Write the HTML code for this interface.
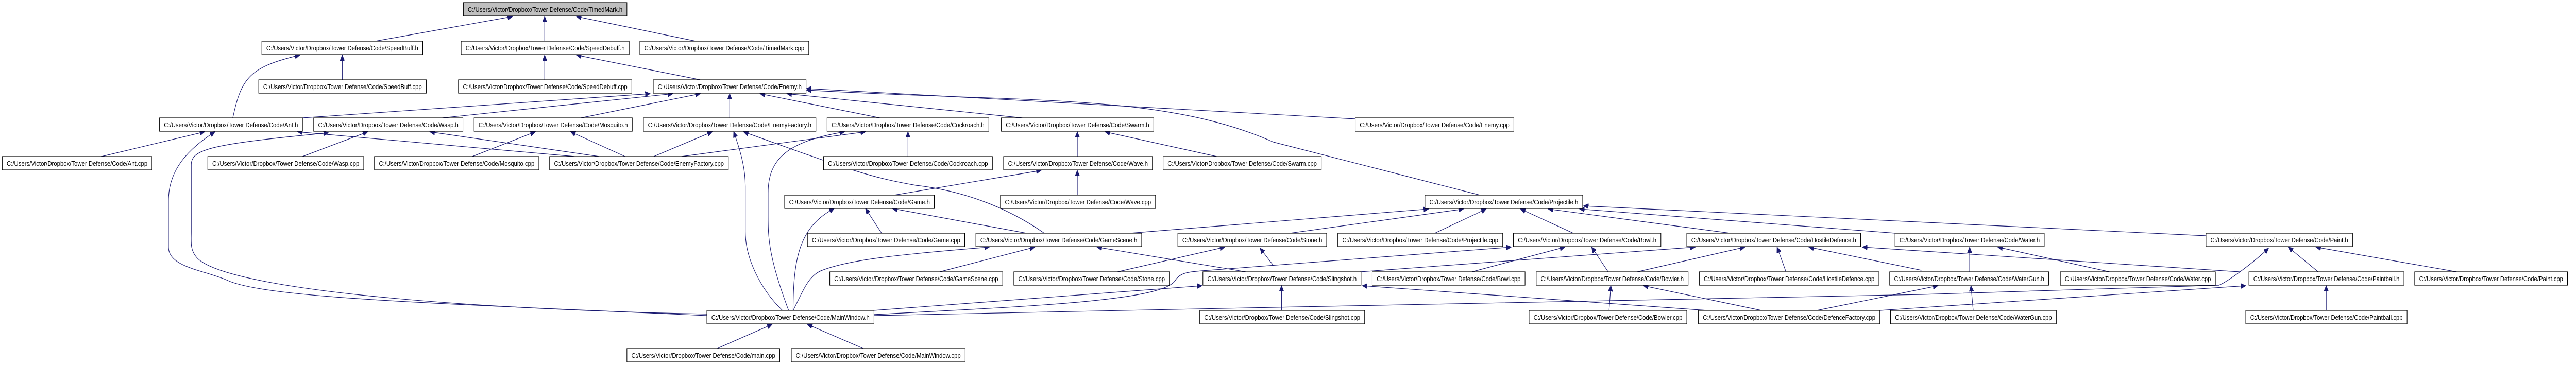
<!DOCTYPE html>
<html><head><meta charset="utf-8"><style>
html,body{margin:0;padding:0;background:#fff;overflow:hidden;width:100%;height:100%;}
svg{display:block;width:100vw;height:100vh;}
text{font-family:"Liberation Sans",Arial,sans-serif;font-size:13px;fill:#000;}
.n{fill:#fff;stroke:#000;stroke-width:1.2;}
.e{fill:none;stroke:#191970;stroke-width:1.2;marker-end:url(#a);}
</style></head><body>
<svg viewBox="0 0 5765 709" preserveAspectRatio="none" xmlns="http://www.w3.org/2000/svg">
<defs><marker id="a" markerUnits="userSpaceOnUse" markerWidth="12" markerHeight="10" refX="11" refY="5" orient="auto"><path d="M0,0 L11,5 L0,10 z" fill="#191970" stroke="#191970"/></marker></defs>
<g>
<path class="e" d="M840,80 L1147,32"/>
<path class="e" d="M1219,80 L1219,32"/>
<path class="e" d="M1557,80 L1290,32"/>
<path class="e" d="M766,155 L766,107"/>
<path class="e" d="M1219,155 L1219,107"/>
<path class="e" d="M1567,155 L1290,107"/>
<path class="e" d="M521,229 C540,150 560,130 671,107"/>
<path class="e" d="M677,229 L1455,182"/>
<path class="e" d="M990,229 L1506,182"/>
<path class="e" d="M1300,229 L1567,182"/>
<path class="e" d="M1633,229 L1633,182"/>
<path class="e" d="M1969,229 L1701,182"/>
<path class="e" d="M2288,229 L1761,182"/>
<path class="e" d="M3033,231 L1805,172"/>
<path class="e" d="M3312,379 L2850,276 C2600,180 2300,200 1805,175"/>
<path class="e" d="M227,304 L458,256"/>
<path class="e" d="M1582,613 C1000,590 600,580 510,545 C460,525 377,520 377,480 L377,390 C377,330 420,290 481,256"/>
<path class="e" d="M1582,610 C1000,600 500,560 440,500 C425,485 428,470 428,450 L428,320 C428,290 470,280 735,258"/>
<path class="e" d="M677,304 L823,256"/>
<path class="e" d="M1341,304 L962,256"/>
<path class="e" d="M1286,304 L666,256"/>
<path class="e" d="M1057,304 L1198,256"/>
<path class="e" d="M1399,304 L1277,256"/>
<path class="e" d="M1463,304 L1594,256"/>
<path class="e" d="M1525,304 L1937,256"/>
<path class="e" d="M1751,603 C1700,560 1668,500 1668,450 L1668,362 C1668,330 1660,300 1642,256"/>
<path class="e" d="M2337,453 C2250,400 2150,370 2050,360 C1950,345 1900,330 1664,256"/>
<path class="e" d="M1765,603 C1720,500 1719,460 1719,420 L1719,375 C1719,310 1760,275 1890,256"/>
<path class="e" d="M2032,304 L2032,256"/>
<path class="e" d="M2411,304 L2411,256"/>
<path class="e" d="M2723,304 L2473,256"/>
<path class="e" d="M2001,379 L2330,331"/>
<path class="e" d="M2411,379 L2411,331"/>
<path class="e" d="M1973,453 L1937,405"/>
<path class="e" d="M2297,453 L1997,405"/>
<path class="e" d="M1775,603 C1775,500 1790,440 1867,405"/>
<path class="e" d="M2529,453 L3197,406"/>
<path class="e" d="M2103,528 L2316,480"/>
<path class="e" d="M1775,603 C1800,560 1810,535 1840,525 C1900,505 2000,495 2214,480"/>
<path class="e" d="M2788,528 L2455,480"/>
<path class="e" d="M2501,528 L2741,480"/>
<path class="e" d="M2850,516 L2820,482"/>
<path class="e" d="M1955,603 L2690,555"/>
<path class="e" d="M1956,611 C2300,595 2600,585 2630,545 C2640,530 2660,528 2690,526 L3382,480"/>
<path class="e" d="M1956,613 L2850,597 L4300,572 L4966,554 C4990,545 5050,505 5077,482"/>
<path class="e" d="M4207,603 L5026,555"/>
<path class="e" d="M2868,603 L2868,555"/>
<path class="e" d="M3821,603 L3049,555"/>
<path class="e" d="M3044,528 L3794,480"/>
<path class="e" d="M3294,528 L3502,480"/>
<path class="e" d="M3599,528 L3562,480"/>
<path class="e" d="M2887,453 L3275,406"/>
<path class="e" d="M3211,453 L3326,406"/>
<path class="e" d="M3521,453 L3403,406"/>
<path class="e" d="M3872,453 L3465,406"/>
<path class="e" d="M4242,453 L3535,406"/>
<path class="e" d="M4937,458 L3544,400"/>
<path class="e" d="M3664,528 L3905,480"/>
<path class="e" d="M3997,528 L3977,480"/>
<path class="e" d="M4300,525 L4048,480"/>
<path class="e" d="M5012,528 L4168,480"/>
<path class="e" d="M3601,603 L3605,555"/>
<path class="e" d="M3942,603 L3678,555"/>
<path class="e" d="M4066,603 L4337,555"/>
<path class="e" d="M4408,528 L4408,480"/>
<path class="e" d="M4721,528 L4471,480"/>
<path class="e" d="M4416,603 L4411,555"/>
<path class="e" d="M5188,528 L5121,480"/>
<path class="e" d="M5498,528 L5183,480"/>
<path class="e" d="M5206,603 L5206,555"/>
<path class="e" d="M1605,677 L1728,630"/>
<path class="e" d="M1932,677 L1807,630"/>
</g>
<g>
<rect x="1037" y="5" width="366" height="26" fill="#bfbfbf" stroke="#000" stroke-width="1.2"/><text x="1047" y="23" textLength="346" lengthAdjust="spacingAndGlyphs">C:/Users/Victor/Dropbox/Tower Defense/Code/TimedMark.h</text>
<rect class="n" x="586" y="80" width="360" height="26"/><text x="596" y="98" textLength="340" lengthAdjust="spacingAndGlyphs">C:/Users/Victor/Dropbox/Tower Defense/Code/SpeedBuff.h</text>
<rect class="n" x="1032" y="80" width="376" height="26"/><text x="1042" y="98" textLength="356" lengthAdjust="spacingAndGlyphs">C:/Users/Victor/Dropbox/Tower Defense/Code/SpeedDebuff.h</text>
<rect class="n" x="1432" y="80" width="378" height="26"/><text x="1442" y="98" textLength="358" lengthAdjust="spacingAndGlyphs">C:/Users/Victor/Dropbox/Tower Defense/Code/TimedMark.cpp</text>
<rect class="n" x="579" y="155" width="375" height="26"/><text x="589" y="173" textLength="355" lengthAdjust="spacingAndGlyphs">C:/Users/Victor/Dropbox/Tower Defense/Code/SpeedBuff.cpp</text>
<rect class="n" x="1026" y="155" width="388" height="26"/><text x="1036" y="173" textLength="368" lengthAdjust="spacingAndGlyphs">C:/Users/Victor/Dropbox/Tower Defense/Code/SpeedDebuff.cpp</text>
<rect class="n" x="1462" y="155" width="342" height="26"/><text x="1472" y="173" textLength="322" lengthAdjust="spacingAndGlyphs">C:/Users/Victor/Dropbox/Tower Defense/Code/Enemy.h</text>
<rect class="n" x="357" y="229" width="320" height="26"/><text x="367" y="247" textLength="300" lengthAdjust="spacingAndGlyphs">C:/Users/Victor/Dropbox/Tower Defense/Code/Ant.h</text>
<rect class="n" x="702" y="229" width="334" height="26"/><text x="712" y="247" textLength="314" lengthAdjust="spacingAndGlyphs">C:/Users/Victor/Dropbox/Tower Defense/Code/Wasp.h</text>
<rect class="n" x="1061" y="229" width="354" height="26"/><text x="1071" y="247" textLength="334" lengthAdjust="spacingAndGlyphs">C:/Users/Victor/Dropbox/Tower Defense/Code/Mosquito.h</text>
<rect class="n" x="1440" y="229" width="386" height="26"/><text x="1450" y="247" textLength="366" lengthAdjust="spacingAndGlyphs">C:/Users/Victor/Dropbox/Tower Defense/Code/EnemyFactory.h</text>
<rect class="n" x="1851" y="229" width="362" height="26"/><text x="1861" y="247" textLength="342" lengthAdjust="spacingAndGlyphs">C:/Users/Victor/Dropbox/Tower Defense/Code/Cockroach.h</text>
<rect class="n" x="2241" y="229" width="341" height="26"/><text x="2251" y="247" textLength="321" lengthAdjust="spacingAndGlyphs">C:/Users/Victor/Dropbox/Tower Defense/Code/Swarm.h</text>
<rect class="n" x="3033" y="229" width="355" height="26"/><text x="3043" y="247" textLength="335" lengthAdjust="spacingAndGlyphs">C:/Users/Victor/Dropbox/Tower Defense/Code/Enemy.cpp</text>
<rect class="n" x="5" y="304" width="335" height="26"/><text x="15" y="322" textLength="315" lengthAdjust="spacingAndGlyphs">C:/Users/Victor/Dropbox/Tower Defense/Code/Ant.cpp</text>
<rect class="n" x="465" y="304" width="349" height="26"/><text x="475" y="322" textLength="329" lengthAdjust="spacingAndGlyphs">C:/Users/Victor/Dropbox/Tower Defense/Code/Wasp.cpp</text>
<rect class="n" x="838" y="304" width="368" height="26"/><text x="848" y="322" textLength="348" lengthAdjust="spacingAndGlyphs">C:/Users/Victor/Dropbox/Tower Defense/Code/Mosquito.cpp</text>
<rect class="n" x="1230" y="304" width="400" height="26"/><text x="1240" y="322" textLength="380" lengthAdjust="spacingAndGlyphs">C:/Users/Victor/Dropbox/Tower Defense/Code/EnemyFactory.cpp</text>
<rect class="n" x="1843" y="304" width="378" height="26"/><text x="1853" y="322" textLength="358" lengthAdjust="spacingAndGlyphs">C:/Users/Victor/Dropbox/Tower Defense/Code/Cockroach.cpp</text>
<rect class="n" x="2246" y="304" width="333" height="26"/><text x="2256" y="322" textLength="313" lengthAdjust="spacingAndGlyphs">C:/Users/Victor/Dropbox/Tower Defense/Code/Wave.h</text>
<rect class="n" x="2603" y="304" width="354" height="26"/><text x="2613" y="322" textLength="334" lengthAdjust="spacingAndGlyphs">C:/Users/Victor/Dropbox/Tower Defense/Code/Swarm.cpp</text>
<rect class="n" x="1756" y="379" width="335" height="26"/><text x="1766" y="397" textLength="315" lengthAdjust="spacingAndGlyphs">C:/Users/Victor/Dropbox/Tower Defense/Code/Game.h</text>
<rect class="n" x="2239" y="379" width="347" height="26"/><text x="2249" y="397" textLength="327" lengthAdjust="spacingAndGlyphs">C:/Users/Victor/Dropbox/Tower Defense/Code/Wave.cpp</text>
<rect class="n" x="3189" y="379" width="353" height="26"/><text x="3199" y="397" textLength="333" lengthAdjust="spacingAndGlyphs">C:/Users/Victor/Dropbox/Tower Defense/Code/Projectile.h</text>
<rect class="n" x="1807" y="453" width="352" height="26"/><text x="1817" y="471" textLength="332" lengthAdjust="spacingAndGlyphs">C:/Users/Victor/Dropbox/Tower Defense/Code/Game.cpp</text>
<rect class="n" x="2184" y="453" width="371" height="26"/><text x="2194" y="471" textLength="351" lengthAdjust="spacingAndGlyphs">C:/Users/Victor/Dropbox/Tower Defense/Code/GameScene.h</text>
<rect class="n" x="2636" y="453" width="333" height="26"/><text x="2646" y="471" textLength="313" lengthAdjust="spacingAndGlyphs">C:/Users/Victor/Dropbox/Tower Defense/Code/Stone.h</text>
<rect class="n" x="2994" y="453" width="369" height="26"/><text x="3004" y="471" textLength="349" lengthAdjust="spacingAndGlyphs">C:/Users/Victor/Dropbox/Tower Defense/Code/Projectile.cpp</text>
<rect class="n" x="3387" y="453" width="330" height="26"/><text x="3397" y="471" textLength="310" lengthAdjust="spacingAndGlyphs">C:/Users/Victor/Dropbox/Tower Defense/Code/Bowl.h</text>
<rect class="n" x="3775" y="453" width="389" height="26"/><text x="3785" y="471" textLength="369" lengthAdjust="spacingAndGlyphs">C:/Users/Victor/Dropbox/Tower Defense/Code/HostileDefence.h</text>
<rect class="n" x="4241" y="453" width="334" height="26"/><text x="4251" y="471" textLength="314" lengthAdjust="spacingAndGlyphs">C:/Users/Victor/Dropbox/Tower Defense/Code/Water.h</text>
<rect class="n" x="4937" y="453" width="328" height="26"/><text x="4947" y="471" textLength="308" lengthAdjust="spacingAndGlyphs">C:/Users/Victor/Dropbox/Tower Defense/Code/Paint.h</text>
<rect class="n" x="1857" y="528" width="387" height="26"/><text x="1867" y="546" textLength="367" lengthAdjust="spacingAndGlyphs">C:/Users/Victor/Dropbox/Tower Defense/Code/GameScene.cpp</text>
<rect class="n" x="2269" y="528" width="348" height="26"/><text x="2279" y="546" textLength="328" lengthAdjust="spacingAndGlyphs">C:/Users/Victor/Dropbox/Tower Defense/Code/Stone.cpp</text>
<rect class="n" x="2692" y="528" width="354" height="26"/><text x="2702" y="546" textLength="334" lengthAdjust="spacingAndGlyphs">C:/Users/Victor/Dropbox/Tower Defense/Code/Slingshot.h</text>
<rect class="n" x="3071" y="528" width="342" height="26"/><text x="3081" y="546" textLength="322" lengthAdjust="spacingAndGlyphs">C:/Users/Victor/Dropbox/Tower Defense/Code/Bowl.cpp</text>
<rect class="n" x="3438" y="528" width="340" height="26"/><text x="3448" y="546" textLength="320" lengthAdjust="spacingAndGlyphs">C:/Users/Victor/Dropbox/Tower Defense/Code/Bowler.h</text>
<rect class="n" x="3803" y="528" width="402" height="26"/><text x="3813" y="546" textLength="382" lengthAdjust="spacingAndGlyphs">C:/Users/Victor/Dropbox/Tower Defense/Code/HostileDefence.cpp</text>
<rect class="n" x="4229" y="528" width="356" height="26"/><text x="4239" y="546" textLength="336" lengthAdjust="spacingAndGlyphs">C:/Users/Victor/Dropbox/Tower Defense/Code/WaterGun.h</text>
<rect class="n" x="4611" y="528" width="347" height="26"/><text x="4621" y="546" textLength="327" lengthAdjust="spacingAndGlyphs">C:/Users/Victor/Dropbox/Tower Defense/Code/Water.cpp</text>
<rect class="n" x="5033" y="528" width="347" height="26"/><text x="5043" y="546" textLength="327" lengthAdjust="spacingAndGlyphs">C:/Users/Victor/Dropbox/Tower Defense/Code/Paintball.h</text>
<rect class="n" x="5404" y="528" width="342" height="26"/><text x="5414" y="546" textLength="322" lengthAdjust="spacingAndGlyphs">C:/Users/Victor/Dropbox/Tower Defense/Code/Paint.cpp</text>
<rect class="n" x="1582" y="603" width="374" height="26"/><text x="1592" y="621" textLength="354" lengthAdjust="spacingAndGlyphs">C:/Users/Victor/Dropbox/Tower Defense/Code/MainWindow.h</text>
<rect class="n" x="2685" y="603" width="369" height="26"/><text x="2695" y="621" textLength="349" lengthAdjust="spacingAndGlyphs">C:/Users/Victor/Dropbox/Tower Defense/Code/Slingshot.cpp</text>
<rect class="n" x="3422" y="603" width="353" height="26"/><text x="3432" y="621" textLength="333" lengthAdjust="spacingAndGlyphs">C:/Users/Victor/Dropbox/Tower Defense/Code/Bowler.cpp</text>
<rect class="n" x="3801" y="603" width="406" height="26"/><text x="3811" y="621" textLength="386" lengthAdjust="spacingAndGlyphs">C:/Users/Victor/Dropbox/Tower Defense/Code/DefenceFactory.cpp</text>
<rect class="n" x="4231" y="603" width="371" height="26"/><text x="4241" y="621" textLength="351" lengthAdjust="spacingAndGlyphs">C:/Users/Victor/Dropbox/Tower Defense/Code/WaterGun.cpp</text>
<rect class="n" x="5026" y="603" width="361" height="26"/><text x="5036" y="621" textLength="341" lengthAdjust="spacingAndGlyphs">C:/Users/Victor/Dropbox/Tower Defense/Code/Paintball.cpp</text>
<rect class="n" x="1403" y="677" width="342" height="26"/><text x="1413" y="695" textLength="322" lengthAdjust="spacingAndGlyphs">C:/Users/Victor/Dropbox/Tower Defense/Code/main.cpp</text>
<rect class="n" x="1771" y="677" width="389" height="26"/><text x="1781" y="695" textLength="369" lengthAdjust="spacingAndGlyphs">C:/Users/Victor/Dropbox/Tower Defense/Code/MainWindow.cpp</text>
</g>
</svg>
</body></html>
